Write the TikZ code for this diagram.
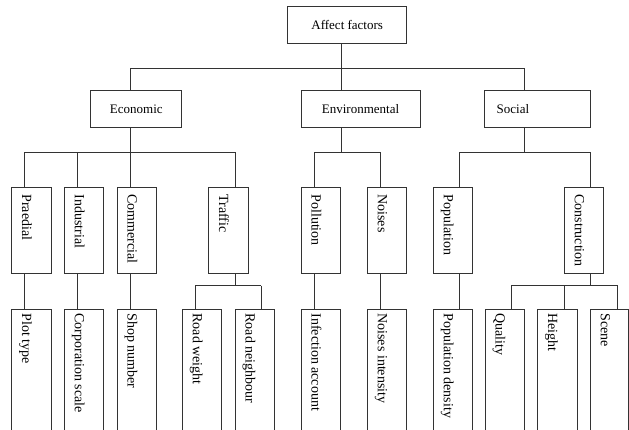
\documentclass[tikz,border=0pt]{standalone}
\usepackage{fontspec}
\setmainfont{Liberation Serif}
\usetikzlibrary{calc}
\tikzset{
  ln/.style={draw=black!80, line width=1pt},
  hbox/.style={ln, rectangle, inner sep=0pt, minimum height=36.5pt, font=\fontsize{13}{15}\selectfont},
  vbox/.style={ln, rectangle, inner sep=0pt, minimum width=39.3pt},
  lvtwo/.style={vbox, minimum height=86pt},
  lvthree/.style={vbox, minimum height=131pt},
  vtext/.style={rotate=-90, anchor=base west, inner sep=0pt, font=\fontsize{14}{16}\selectfont},
}
\begin{document}
\begin{tikzpicture}[x=1pt, y=-1pt]
\useasboundingbox (0,0) rectangle (629,429);
\clip (0,0) rectangle (629,429);
% level 0 and 1
\node[hbox, minimum width=119pt] (root) at (347.2,25) {Affect factors};
\node[hbox, minimum width=91.3pt] (econ) at (136.3,108.8) {Economic};
\node[hbox, minimum width=119pt] (env) at (360.5,108.8) {Environmental};
\node[hbox, text width=82pt, inner xsep=12pt, align=left] (soc) at (537.7,108.8) {Social};
% level 2
\node[lvtwo] (pra) at (31.35,230.3) {};
\node[lvtwo] (ind) at (84,230.3) {};
\node[lvtwo] (com) at (136.65,230.3) {};
\node[lvtwo] (tra) at (228.35,230.3) {};
\node[lvtwo] (pol) at (320.85,230.3) {};
\node[lvtwo] (noi) at (387,230.3) {};
\node[lvtwo] (pop) at (453,230.3) {};
\node[lvtwo] (con) at (584,230.3) {};
% level 3
\node[lvthree] (plot) at (31.35,374.8) {};
\node[lvthree] (corp) at (84,374.8) {};
\node[lvthree] (shop) at (136.65,374.8) {};
\node[lvthree] (rw) at (202,374.8) {};
\node[lvthree] (rn) at (254.65,374.8) {};
\node[lvthree] (inf) at (320.85,374.8) {};
\node[lvthree] (ni) at (387,374.8) {};
\node[lvthree] (pd) at (453,374.8) {};
\node[lvthree] (qua) at (504.65,374.8) {};
\node[lvthree] (hei) at (557.35,374.8) {};
\node[lvthree, minimum width=38pt] (sce) at (609.3,374.8) {};
% texts of vertical boxes
\foreach \b/\t in {pra/Praedial, ind/Industrial, com/Commercial, tra/Traffic, pol/Pollution, noi/Noises, pop/Population, con/Construction}
  \node[vtext] at ($(\b.north west)+(11,7.5)$) {\t};
\foreach \b/\t in {plot/Plot type, corp/Corporation scale, shop/Shop number, rw/Road weight, rn/Road neighbour, inf/Infection account, ni/Noises intensity, pd/Population density, qua/Quality, hei/Height, sce/Scene}
  \node[vtext] at ($(\b.north west)+(11,4.5)$) {\t};
% bus coordinates
\coordinate (r0) at (341,68.3);
\coordinate (r1) at (130,68.3);
\coordinate (r2) at (524.3,68.3);
\coordinate (e1) at (24.3,152.3);
\coordinate (e2) at (77.7,152.3);
\coordinate (e3) at (130,152.3);
\coordinate (e4) at (235,152.3);
\coordinate (v0) at (341,152.3);
\coordinate (v1) at (314,152.3);
\coordinate (v2) at (380.3,152.3);
\coordinate (s0) at (524.3,152.3);
\coordinate (s1) at (459.7,152.3);
\coordinate (s2) at (590.7,152.3);
\coordinate (t0) at (235,285.7);
\coordinate (t1) at (195.3,285.7);
\coordinate (t2) at (261.3,285.7);
\coordinate (c0) at (590.7,285.3);
\coordinate (c1) at (511,285.3);
\coordinate (c2) at (564.3,285.3);
\coordinate (c3) at (617,285.3);
% level 1 connectors
\draw[ln] (root.south -| r0) -- (env.north -| r0);
\draw[ln] (r1) -- (r2);
\draw[ln] (r1) -- (econ.north -| r1);
\draw[ln] (r2) -- (soc.north -| r2);
% level 2 connectors
\draw[ln] (econ.south -| e3) -- (e3);
\draw[ln] (e1) -- (e4);
\draw[ln] (e1) -- (pra.north -| e1);
\draw[ln] (e2) -- (ind.north -| e2);
\draw[ln] (e3) -- (com.north -| e3);
\draw[ln] (e4) -- (tra.north -| e4);
\draw[ln] (env.south -| v0) -- (v0);
\draw[ln] (v1) -- (v2);
\draw[ln] (v1) -- (pol.north -| v1);
\draw[ln] (v2) -- (noi.north -| v2);
\draw[ln] (soc.south -| s0) -- (s0);
\draw[ln] (s1) -- (s2);
\draw[ln] (s1) -- (pop.north -| s1);
\draw[ln] (s2) -- (con.north -| s2);
% level 3 connectors
\draw[ln] (pra.south -| e1) -- (plot.north -| e1);
\draw[ln] (ind.south -| e2) -- (corp.north -| e2);
\draw[ln] (com.south -| e3) -- (shop.north -| e3);
\draw[ln] (tra.south -| t0) -- (t0);
\draw[ln] (t1) -- (t2);
\draw[ln] (t1) -- (rw.north -| t1);
\draw[ln] (t2) -- (rn.north -| t2);
\draw[ln] (pol.south -| v1) -- (inf.north -| v1);
\draw[ln] (noi.south -| v2) -- (ni.north -| v2);
\draw[ln] (pop.south -| s1) -- (pd.north -| s1);
\draw[ln] (con.south -| c0) -- (c0);
\draw[ln] (c1) -- (c3);
\draw[ln] (c1) -- (qua.north -| c1);
\draw[ln] (c2) -- (hei.north -| c2);
\draw[ln] (c3) -- (sce.north -| c3);
\end{tikzpicture}
\end{document}
